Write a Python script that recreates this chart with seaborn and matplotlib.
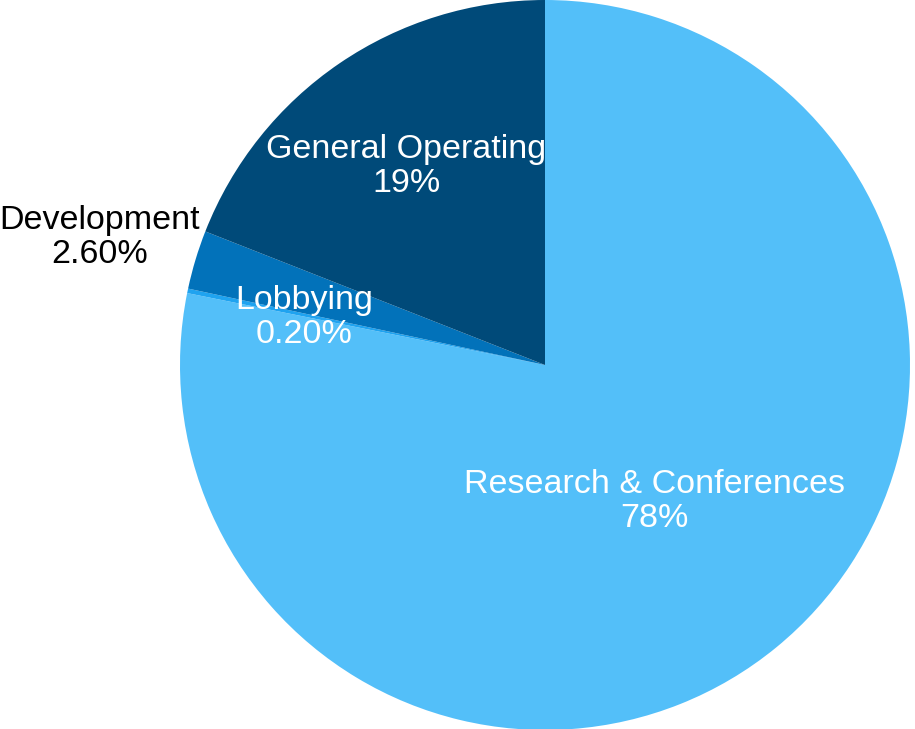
import matplotlib.pyplot as plt
import seaborn as sns

sns.set_theme(style="white")
plt.rcParams['font.family'] = ['Liberation Sans', 'DejaVu Sans']

# slices, clockwise from 12 o'clock
categories = ["Research & Conferences", "Lobbying", "Development", "General Operating"]
shares = [78, 0.2, 2.6, 19]
share_labels = ["78%", "0.20%", "2.60%", "19%"]
colors = ["#53BFF9", "#1FA3F0", "#0272BA", "#004A79"]

# label anchors in pie units (radius = 1)
label_pos = [(0.30, -0.375), (-0.66, 0.13), (-1.22, 0.35), (-0.38, 0.545)]
label_col = ["white", "white", "black", "white"]

fig = plt.figure(figsize=(9.15, 7.29), dpi=100)
ax = fig.add_axes([180 / 915, -1 / 729, 730 / 915, 730 / 729])
ax.pie(shares, colors=colors, startangle=90, counterclock=False,
       wedgeprops=dict(linewidth=0))
ax.set_xlim(-1, 1)
ax.set_ylim(-1, 1)
ax.set_aspect('equal')
ax.axis('off')

for name, lab, (x, y), c in zip(categories, share_labels, label_pos, label_col):
    ax.text(x, y, f"{name}\n{lab}", ha='center', va='center', color=c,
            fontsize=24.5, linespacing=1.12, clip_on=False)

fig.savefig("out.png", dpi=100)
